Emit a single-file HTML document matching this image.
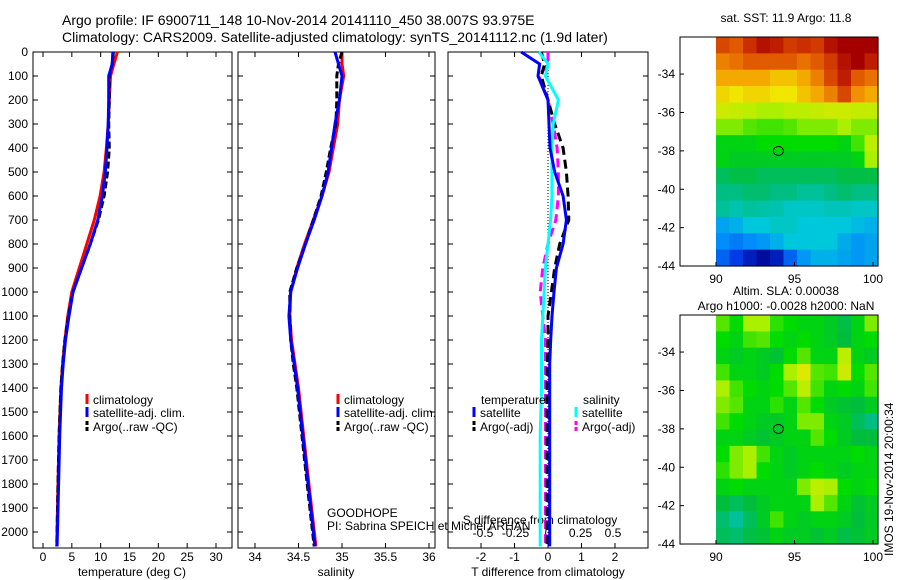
<!DOCTYPE html>
<html><head><meta charset="utf-8"><style>
body{margin:0;background:#fff}
svg{display:block;font-family:"Liberation Sans",sans-serif}
text{font-size:12px;fill:#000}
</style></head><body>
<svg id="fig" width="900" height="580" viewBox="0 0 900 580" xmlns="http://www.w3.org/2000/svg">
<rect width="900" height="580" fill="#fff"/>
<text x="62" y="25" style="font-size:14px">Argo profile: IF 6900711_148 10-Nov-2014 20141110_450 38.007S 93.975E</text>
<text x="62" y="42" style="font-size:14px">Climatology: CARS2009. Satellite-adjusted climatology: synTS_20141112.nc (1.9d later)</text>
<g id="g"></g>
</svg>
<script>
// depth levels
const depths=[0,50,100,200,300,400,500,600,700,800,900,1000,1100,1200,1300,1400,1600,1800,2060];
const tClim=[12.9,12.3,11.7,11.5,11.3,11.0,10.6,9.9,8.9,7.6,6.3,5.0,4.3,3.8,3.4,3.1,2.8,2.6,2.4];
const tSat=[12.1,12.0,11.4,11.4,11.3,11.1,10.8,10.3,9.5,8.2,6.7,5.2,4.5,3.9,3.5,3.2,2.9,2.7,2.45];
const tArgo=[12.2,12.0,11.5,11.5,11.4,11.5,11.2,10.6,9.6,8.2,6.7,5.2,4.4,3.8,3.4,3.1,2.8,2.6,2.4];
const sClim=[35.0,35.0,35.02,34.97,34.95,34.9,34.85,34.77,34.67,34.57,34.48,34.41,34.4,34.42,34.46,34.5,34.56,34.62,34.7];
const sSat=[34.92,34.96,35.0,34.97,34.92,34.88,34.84,34.77,34.68,34.58,34.49,34.41,34.39,34.41,34.45,34.49,34.55,34.61,34.69];
const sArgo=[35.0,34.96,34.94,34.94,34.93,34.87,34.82,34.76,34.67,34.58,34.48,34.4,34.4,34.41,34.44,34.48,34.54,34.6,34.68];
const dTSat=[-0.8,-0.25,-0.3,0,0.03,0.06,0.2,0.45,0.55,0.45,0.25,0.18,0.12,0.08,0.05,0.05,0.05,0.05,0.05];
const dTArgo=[-0.2,-0.1,-0.2,0,0.2,0.45,0.55,0.6,0.62,0.35,0.2,0.1,0,0,-0.02,-0.03,-0.03,-0.03,-0.03];
const dSSat=[-0.07,0,-0.02,0.08,0.04,0.03,0.03,0.03,0.02,0,-0.02,-0.03,-0.04,-0.05,-0.05,-0.05,-0.06,-0.06,-0.06];
const dSArgo=[0,0,-0.07,0,0.04,0.07,0.08,0.08,0.06,0,-0.04,-0.06,-0.04,-0.02,-0.02,-0.02,-0.02,-0.02,-0.02];
const depthTicks=[0,100,200,300,400,500,600,700,800,900,1000,1100,1200,1300,1400,1500,1600,1700,1800,1900,2000];
const tTicks=[0,5,10,15,20,25,30];
const sTicks=[34,34.5,35,35.5,36];
const dtTicks=[-2,-1,0,1,2];
const dsTicks=[-0.5,-0.25,0,0.25,0.5];
const lonTicks=[90,95,100];
const latTicks=[-34,-36,-38,-40,-42,-44];
const sstGrid=[
[.88,.85,.92,.97,.95,.9,.92,.9,.97,1,1,1],
[.8,.82,.85,.85,.85,.85,.82,.85,.9,.97,1,.95],
[.75,.75,.75,.75,.72,.72,.75,.8,.88,.95,.85,.82],
[.7,.68,.7,.7,.68,.68,.72,.75,.8,.88,.78,.75],
[.64,.63,.62,.6,.6,.62,.62,.63,.64,.64,.63,.63],
[.58,.58,.56,.55,.55,.56,.58,.58,.58,.6,.58,.58],
[.5,.5,.5,.52,.52,.52,.52,.52,.52,.5,.55,.62],
[.5,.48,.48,.48,.48,.48,.48,.48,.48,.48,.5,.6],
[.42,.44,.44,.42,.42,.42,.42,.42,.42,.44,.44,.44],
[.38,.38,.4,.4,.38,.38,.36,.36,.38,.4,.38,.38],
[.36,.34,.36,.35,.34,.32,.32,.32,.33,.33,.32,.32],
[.24,.26,.3,.3,.32,.32,.3,.3,.3,.3,.28,.26],
[.2,.18,.2,.22,.26,.3,.3,.3,.3,.25,.22,.24],
[.15,.1,.05,.02,.05,.15,.22,.26,.26,.24,.22,.24]];
const slaGrid=[
[.56,.52,.6,.6,.54,.52,.5,.5,.48,.44,.5,.58],
[.52,.5,.55,.56,.52,.5,.52,.5,.48,.45,.5,.52],
[.5,.48,.5,.48,.46,.52,.56,.5,.5,.62,.5,.48],
[.55,.5,.5,.48,.52,.6,.66,.56,.55,.64,.52,.56],
[.6,.55,.52,.5,.52,.56,.62,.55,.5,.52,.5,.55],
[.58,.56,.5,.5,.54,.5,.56,.52,.48,.46,.45,.48],
[.55,.52,.5,.48,.48,.5,.58,.58,.5,.48,.42,.38],
[.5,.5,.48,.46,.48,.5,.5,.56,.52,.48,.45,.45],
[.52,.58,.6,.55,.5,.48,.5,.5,.5,.5,.52,.5],
[.54,.58,.6,.52,.5,.48,.5,.52,.5,.48,.5,.5],
[.5,.52,.5,.5,.5,.5,.58,.62,.6,.52,.5,.52],
[.45,.42,.45,.48,.5,.5,.5,.6,.56,.5,.46,.48],
[.4,.36,.42,.48,.55,.5,.48,.5,.5,.48,.45,.48],
[.42,.4,.44,.46,.5,.48,.48,.46,.48,.44,.46,.48]];

const NS='http://www.w3.org/2000/svg';
const G=document.getElementById('g');
function mk(tag,attrs,parent){const e=document.createElementNS(NS,tag);for(const k in attrs)e.setAttribute(k,attrs[k]);(parent||G).appendChild(e);return e;}
function txt(x,y,s,anchor,parent){const t=mk('text',{x:x,y:y,'text-anchor':anchor||'start'},parent);t.textContent=s;return t;}
const Y0=52,Y1=548;
const yD=d=>Y0+(d/2000)*480;
const xT=v=>43+v*(173/30);
const xS=v=>255+(v-34)*87;
const xDT=v=>548+v*33.5;
const xDS=v=>548+v*130;

function frame(x0,x1,name){
  const r=mk('rect',{x:x0,y:Y0,width:x1-x0,height:Y1-Y0,fill:'none',stroke:'#000','stroke-width':1});
  
  
  depthTicks.forEach(d=>{
    mk('line',{x1:x0,x2:x0+5,y1:yD(d),y2:yD(d),stroke:'#000'});
    mk('line',{x1:x1-5,x2:x1,y1:yD(d),y2:yD(d),stroke:'#000'});
  });
}
function xticks(vals,fx,labels,ly,cls){
  vals.forEach(v=>{
    mk('line',{x1:fx(v),x2:fx(v),y1:Y1,y2:Y1-5,stroke:'#000'});
    mk('line',{x1:fx(v),x2:fx(v),y1:Y0,y2:Y0+5,stroke:'#000'});
    if(labels){const t=txt(fx(v),ly,String(v),'middle');
      
      }
  });
}
function line(xs,fx,color,dash,name,w){
  const pts=xs.map((v,i)=>fx(v).toFixed(1)+','+yD(depths[i]).toFixed(1)).join(' ');
  const p=mk('polyline',{points:pts,fill:'none',stroke:color,'stroke-width':w||3,'stroke-dasharray':dash||'none'});
  
  
}
frame(33,232,'temperature-panel');
frame(238,435,'salinity-panel');
frame(448,648,'difference-panel');
depthTicks.forEach(d=>{const t=txt(28,yD(d)+4,String(d),'end');
  
  });
xticks(tTicks,xT,true,561,'temperature');
xticks(sTicks,xS,true,561,'salinity');
xticks(dtTicks,xDT,true,561,'t-diff');
dsTicks.forEach(v=>{const t=txt(xDS(v),537,String(v),'middle');
  
  });
let t;
t=txt(132,576,'temperature (deg C)','middle');
t=txt(336,576,'salinity','middle');
t=txt(548,576,'T difference from climatology','middle');
t=txt(540,524,'S difference from climatology','middle');
const z=mk('line',{x1:548,x2:548,y1:Y0,y2:Y1,stroke:'#000','stroke-dasharray':'1,2'});

line(tClim,xT,'#f00',null,'temperature-climatology');
line(tArgo,xT,'#000','7,3','temperature-argo');
line(tSat,xT,'#00f',null,'temperature-satellite-adj');
line(sClim,xS,'#f00',null,'salinity-climatology');
line(sArgo,xS,'#000','7,3','salinity-argo');
line(sSat,xS,'#00f',null,'salinity-satellite-adj');
line(dSArgo,xDS,'#f0f','9,5','s-diff-argo');
line(dTArgo,xDT,'#000','9,5','t-diff-argo');
line(dSSat,xDS,'#0ff',null,'s-diff-satellite');
line(dTSat,xDT,'#00f',null,'t-diff-satellite');
function legItem(x,y,color,dash,label,name){
  const l=mk('line',{x1:x,x2:x,y1:y-10,y2:y,stroke:color,'stroke-width':3,'stroke-dasharray':dash||'none'});
  const tt=txt(x+6,y,label);
  
  
}
legItem(87,404,'#f00',null,'climatology','legend-climatology');
legItem(87,417,'#00f',null,'satellite-adj. clim.','legend-satellite-adj');
legItem(87,431,'#000','4,2','Argo(..raw -QC)','legend-argo');
legItem(338,404,'#f00',null,'climatology','legend2-climatology');
legItem(338,417,'#00f',null,'satellite-adj. clim.','legend2-satellite-adj');
legItem(338,431,'#000','4,2','Argo(..raw -QC)','legend2-argo');
t=txt(481,404,'temperature');
t=txt(583,404,'salinity');
legItem(474,417,'#00f',null,'satellite','legend-t-satellite');
legItem(474,431,'#000','4,2','Argo(-adj)','legend-t-argo');
legItem(576,417,'#0ff',null,'satellite','legend-s-satellite');
legItem(576,431,'#f0f','4,2','Argo(-adj)','legend-s-argo');
t=txt(327,517,'GOODHOPE');
t=txt(327,530,'PI: Sabrina SPEICH et Michel ARHAN');

const cmapStops=[[0,0,0,140],[0.1,0,60,230],[0.2,0,140,250],[0.3,0,200,220],[0.38,0,190,130],[0.45,0,190,60],[0.52,0,220,0],[0.6,170,240,0],[0.68,240,230,0],[0.76,245,160,0],[0.85,225,90,0],[0.93,200,40,0],[1,165,0,0]];
function cmap(v){
  v=Math.max(0,Math.min(1,v));
  for(let i=1;i<cmapStops.length;i++){
    const a=cmapStops[i-1],b=cmapStops[i];
    if(v<=b[0]){const f=(v-a[0])/(b[0]-a[0]);
      return `rgb(${Math.round(a[1]+f*(b[1]-a[1]))},${Math.round(a[2]+f*(b[2]-a[2]))},${Math.round(a[3]+f*(b[3]-a[3]))})`;}
  }
  return 'rgb(165,0,0)';
}
function map(top,grid,name,titles){
  const X0=680,X1=878,H=229;
  const lonX=l=>716+(l-90)*15.7;
  const latY=la=>top+(-32.07-la)*19.2;
  const rows=grid.length,cols=grid[0].length;
  const dx=(X1-716)/cols,dy=H/rows;
  const g=mk('g',{});
  
  grid.forEach((row,i)=>row.forEach((v,j)=>{
    const c=mk('rect',{x:716+j*dx,y:top+i*dy,width:dx+0.6,height:dy+0.6,fill:cmap(v)},g);
    
    
  }));
  mk('rect',{x:X0,y:top,width:X1-X0,height:H,fill:'none',stroke:'#000'});
  lonTicks.forEach(l=>{mk('line',{x1:lonX(l),x2:lonX(l),y1:top+H,y2:top+H-4,stroke:'#000'});
    const tt=txt(lonX(l),top+H+17,String(l),'middle');});
  latTicks.forEach(la=>{mk('line',{x1:X0,x2:X0+4,y1:latY(la),y2:latY(la),stroke:'#000'});
    const tt=txt(X0-5,latY(la)+4,String(la),'end');});
  const m=mk('ellipse',{cx:lonX(93.975),cy:latY(-38.007),rx:5,ry:4.5,fill:'none',stroke:'#000'});
  
  titles.forEach((s,i)=>{const tt=txt(786,titles.length===1?top-15:top-20+i*15,s,'middle');
    });
}
map(37,sstGrid,'sst-map',['sat. SST: 11.9 Argo: 11.8']);
map(315,slaGrid,'sla-map',['Altim. SLA: 0.00038','Argo h1000: -0.0028 h2000: NaN']);
t=txt(0,0,'IMOS 19-Nov-2014 20:00:34','start');
t.setAttribute('transform','translate(893,556) rotate(-90)');

</script>
</body></html>
